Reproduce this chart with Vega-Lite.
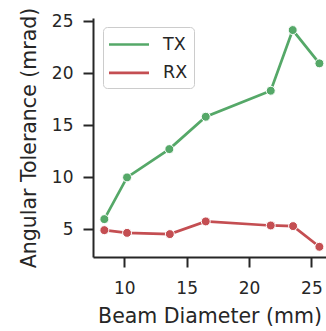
{
  "$schema": "https://vega.github.io/schema/vega-lite/v6.json",
  "autosize": "none",
  "padding": {"left": 93, "top": 18, "right": 0, "bottom": 74},
  "width": 233,
  "height": 239,
  "background": "white",
  "config": {
    "view": {"stroke": null},
    "font": "DejaVu Sans",
    "axis": {
      "grid": false,
      "domainColor": "#262626",
      "domainWidth": 2,
      "tickColor": "#262626",
      "tickWidth": 2,
      "tickSize": 10,
      "labelFont": "DejaVu Sans",
      "labelFontSize": 17,
      "labelColor": "#262626",
      "titleFont": "DejaVu Sans",
      "titleFontSize": 20.5,
      "titleFontWeight": "normal",
      "titleColor": "#262626"
    }
  },
  "data": {
    "values": [
      {"beam": 8.40, "tol": 5.96, "side": "TX"},
      {"beam": 10.22, "tol": 9.97, "side": "TX"},
      {"beam": 13.61, "tol": 12.69, "side": "TX"},
      {"beam": 16.53, "tol": 15.8, "side": "TX"},
      {"beam": 21.74, "tol": 18.3, "side": "TX"},
      {"beam": 23.50, "tol": 24.13, "side": "TX"},
      {"beam": 25.64, "tol": 20.93, "side": "TX"},
      {"beam": 8.40, "tol": 4.9, "side": "RX"},
      {"beam": 10.22, "tol": 4.64, "side": "RX"},
      {"beam": 13.65, "tol": 4.52, "side": "RX"},
      {"beam": 16.53, "tol": 5.74, "side": "RX"},
      {"beam": 21.74, "tol": 5.35, "side": "RX"},
      {"beam": 23.53, "tol": 5.29, "side": "RX"},
      {"beam": 25.64, "tol": 3.3, "side": "RX"}
    ]
  },
  "encoding": {
    "x": {
      "field": "beam", "type": "quantitative",
      "scale": {"domain": [7.49, 26.17], "nice": false, "zero": false},
      "axis": {"title": "Beam Diameter (mm)", "values": [10, 15, 20, 25], "labelPadding": 13, "titlePadding": 10.5}
    },
    "y": {
      "field": "tol", "type": "quantitative",
      "scale": {"domain": [2.32, 25.29], "nice": false, "zero": false},
      "axis": {"title": "Angular Tolerance (mrad)", "values": [5, 10, 15, 20, 25], "labelPadding": 10, "titlePadding": 12}
    },
    "color": {
      "field": "side", "type": "nominal",
      "scale": {"domain": ["TX", "RX"], "range": ["#55A868", "#C44E52"]},
      "legend": {
        "title": null,
        "orient": "none",
        "legendX": 10,
        "legendY": 9,
        "symbolType": "M-2,0H2",
        "symbolSize": 400,
        "symbolStrokeWidth": 2.7,
        "symbolOffset": 8.5,
        "labelFontSize": 17.5,
        "labelFont": "DejaVu Sans",
        "labelColor": "#262626",
        "labelOffset": 22.5,
        "rowPadding": 8.4,
        "padding": 6,
        "fillColor": "rgba(255,255,255,0.8)",
        "strokeColor": "#cccccc",
        "cornerRadius": 4
      }
    }
  },
  "layer": [
    {"mark": {"type": "line", "strokeWidth": 2.7}},
    {"mark": {"type": "point", "filled": true, "size": 80, "stroke": "white", "strokeWidth": 1, "opacity": 1}}
  ]
}
